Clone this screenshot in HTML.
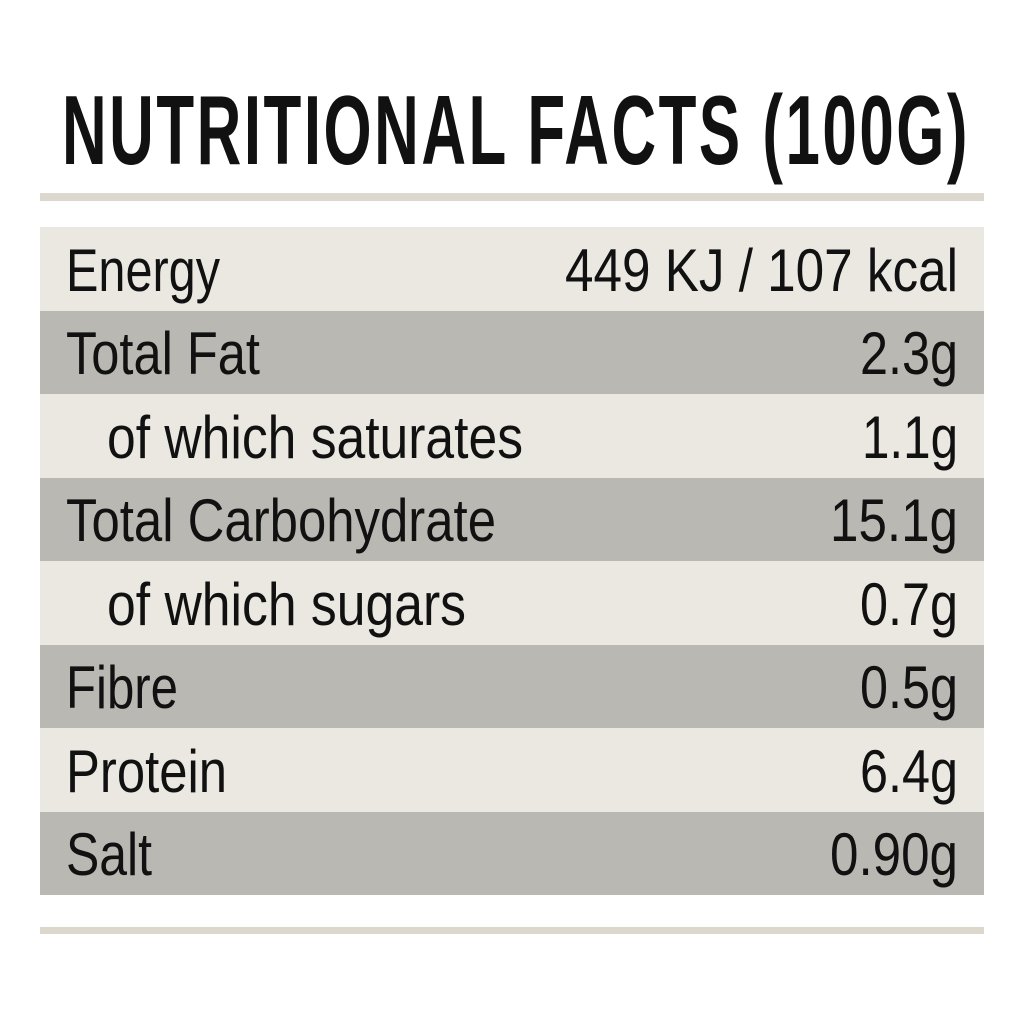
<!DOCTYPE html>
<html><head><meta charset="utf-8"><style>html,body{margin:0;padding:0;background:#fff}svg{display:block}</style></head>
<body>
<svg width="1024" height="1024" viewBox="0 0 1024 1024" xmlns="http://www.w3.org/2000/svg" font-family="Liberation Sans, sans-serif">
<rect width="1024" height="1024" fill="#fff"/>
<text x="62" y="164" font-size="98" font-weight="bold" fill="#111" textLength="908" lengthAdjust="spacingAndGlyphs" letter-spacing="4">NUTRITIONAL FACTS (100G)</text>
<rect x="40" y="193" width="944" height="8" fill="#dcd8ce"/>
<rect x="40" y="227" width="944" height="84" fill="#ebe8e2"/>
<rect x="40" y="311" width="944" height="83" fill="#b9b8b3"/>
<rect x="40" y="394" width="944" height="84" fill="#ebe8e2"/>
<rect x="40" y="478" width="944" height="83" fill="#b9b8b3"/>
<rect x="40" y="561" width="944" height="84" fill="#ebe8e2"/>
<rect x="40" y="645" width="944" height="83" fill="#b9b8b3"/>
<rect x="40" y="728" width="944" height="84" fill="#ebe8e2"/>
<rect x="40" y="812" width="944" height="83" fill="#b9b8b3"/>
<rect x="40" y="927" width="944" height="7" fill="#dcd8ce"/>
<g font-size="60" fill="#111">
<text x="66" y="291" textLength="154" lengthAdjust="spacingAndGlyphs">Energy</text>
<text x="958" y="291" text-anchor="end" textLength="393" lengthAdjust="spacingAndGlyphs">449 KJ / 107 kcal</text>
<text x="66" y="374" textLength="194" lengthAdjust="spacingAndGlyphs">Total Fat</text>
<text x="958" y="374" text-anchor="end" textLength="98" lengthAdjust="spacingAndGlyphs">2.3g</text>
<text x="107" y="458" textLength="416" lengthAdjust="spacingAndGlyphs">of which saturates</text>
<text x="958" y="458" text-anchor="end" textLength="96" lengthAdjust="spacingAndGlyphs">1.1g</text>
<text x="66" y="541" textLength="430" lengthAdjust="spacingAndGlyphs">Total Carbohydrate</text>
<text x="958" y="541" text-anchor="end" textLength="128" lengthAdjust="spacingAndGlyphs">15.1g</text>
<text x="107" y="625" textLength="359" lengthAdjust="spacingAndGlyphs">of which sugars</text>
<text x="958" y="625" text-anchor="end" textLength="98" lengthAdjust="spacingAndGlyphs">0.7g</text>
<text x="66" y="708" textLength="112" lengthAdjust="spacingAndGlyphs">Fibre</text>
<text x="958" y="708" text-anchor="end" textLength="98" lengthAdjust="spacingAndGlyphs">0.5g</text>
<text x="66" y="792" textLength="161" lengthAdjust="spacingAndGlyphs">Protein</text>
<text x="958" y="792" text-anchor="end" textLength="98" lengthAdjust="spacingAndGlyphs">6.4g</text>
<text x="66" y="875" textLength="86" lengthAdjust="spacingAndGlyphs">Salt</text>
<text x="958" y="875" text-anchor="end" textLength="128" lengthAdjust="spacingAndGlyphs">0.90g</text>
</g>
</svg>
</body></html>
